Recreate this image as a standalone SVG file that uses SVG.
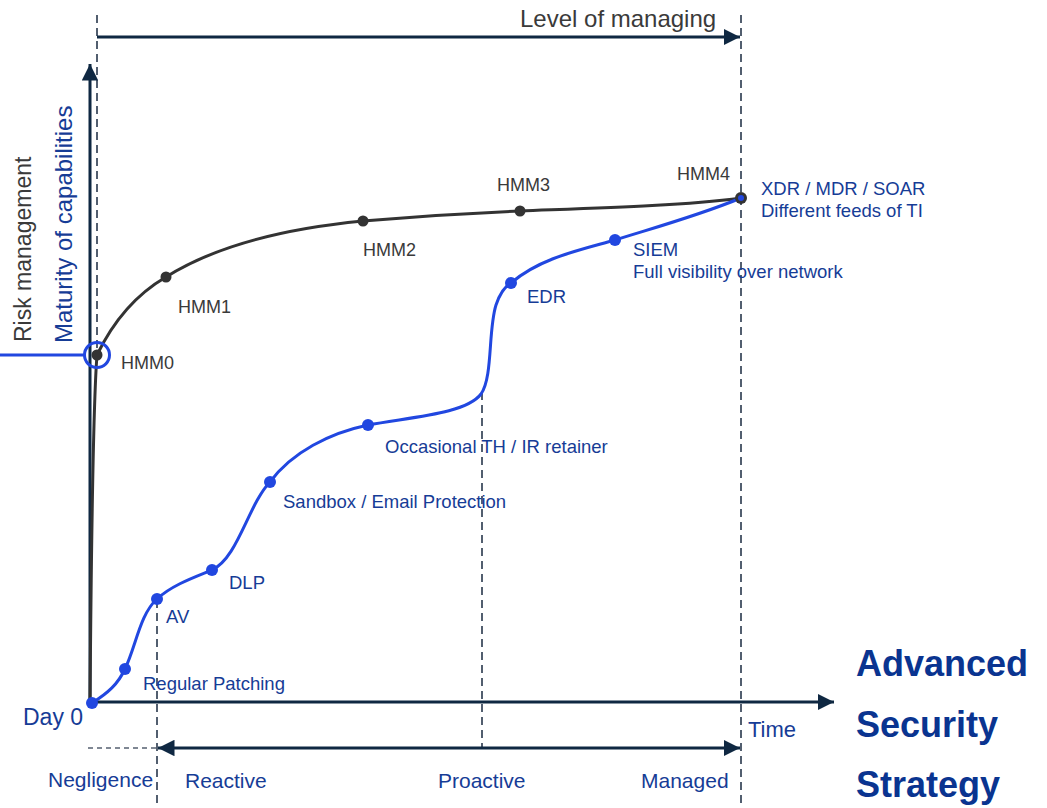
<svg xmlns="http://www.w3.org/2000/svg" width="1047" height="808" viewBox="0 0 1047 808">
<style>
text{font-family:"Liberation Sans",Arial,sans-serif}
.dk{fill:#3a3a3a;font-size:18px}
.bl{fill:#163c96;font-size:18.5px}
.ph{fill:#163c96;font-size:21px}
.big{fill:#0a3490;font-size:36px;font-weight:bold}
.axis{stroke:#0f2842;stroke-width:3;fill:none}
.dash{stroke:#1a2a40;stroke-width:1.5;stroke-dasharray:8 5;fill:none}
.bcurve{stroke:#2147e0;stroke-width:3;fill:none}
.kcurve{stroke:#333;stroke-width:3;fill:none}
.bdot{fill:#2147e0}
.kdot{fill:#333}
</style>
<defs>
<marker id="ah" viewBox="0 0 10 10" refX="10" refY="5" markerWidth="5.5" markerHeight="5.5" orient="auto-start-reverse" markerUnits="strokeWidth"><path d="M0,0 L10,5 L0,10 Z" fill="#0f2842"/></marker>
</defs>
<rect width="1047" height="808" fill="#fff"/>
<g id="guides">
<line class="dash" x1="97" y1="15" x2="97" y2="350"/>
<line class="dash" x1="741" y1="15" x2="741" y2="808"/>
<line class="dash" x1="157" y1="600" x2="157" y2="808"/>
<line class="dash" x1="482" y1="392" x2="482" y2="748"/>
<line x1="88" y1="748" x2="157" y2="748" stroke="#556070" stroke-width="1.5" stroke-dasharray="5 4"/>
</g>
<g id="connectors">
<line class="axis" x1="97" y1="37" x2="740" y2="37" marker-end="url(#ah)"/>
<line class="axis" x1="90" y1="703" x2="90" y2="64" marker-end="url(#ah)"/>
<line class="axis" x1="92" y1="702" x2="834" y2="702" marker-end="url(#ah)"/>
<line class="axis" x1="158" y1="748" x2="740" y2="748" marker-start="url(#ah)" marker-end="url(#ah)"/>
<line x1="0" y1="355" x2="85" y2="355" stroke="#2147e0" stroke-width="3"/>
<path class="kcurve" d="M90,702 C91,600 92,420 97,355 C110,328 130,298 166,277 C220,243 290,228 363,221 C420,216 470,213 520,211 C600,208 680,206 741,198"/>
<path class="bcurve" d="M92,703 C108,693 118,684 125,669 C136,646 140,614 157,599 C172,585 195,577 212,570 C238,558 248,505 270,482 C292,452 330,433 368,425 C410,417 466,414 481,394 C493,377 488,330 496,305 C500,293 504,287 511,283 C540,258 580,250 615,240 C660,226 700,215 741,198"/>
<circle cx="97" cy="355" r="12.5" fill="none" stroke="#2147e0" stroke-width="3"/>
</g>
<g id="axis-labels">
<text x="520" y="27" style="fill:#3a3a3a;font-size:24px">Level of managing</text>
<text transform="translate(31,342) rotate(-90)" style="fill:#3a3a3a;font-size:23px">Risk management</text>
<text transform="translate(72,343) rotate(-90)" style="fill:#163c96;font-size:24px">Maturity of capabilities</text>
<text x="23" y="725" style="fill:#163c96;font-size:23px">Day 0</text>
<text x="748" y="737" style="fill:#163c96;font-size:22px">Time</text>
</g>
<g id="hmm0"><circle class="kdot" cx="97" cy="355" r="5.5"/><text class="dk" x="121" y="369">HMM0</text></g>
<g id="hmm1"><circle class="kdot" cx="166" cy="277" r="5.5"/><text class="dk" x="178" y="313">HMM1</text></g>
<g id="hmm2"><circle class="kdot" cx="363" cy="221" r="5.5"/><text class="dk" x="363" y="256">HMM2</text></g>
<g id="hmm3"><circle class="kdot" cx="520" cy="211" r="5.5"/><text class="dk" x="497" y="191">HMM3</text></g>
<g id="hmm4"><circle class="kdot" cx="741" cy="198" r="6"/><circle class="bdot" cx="741" cy="198" r="3"/><text class="dk" x="677" y="180">HMM4</text></g>
<g id="day0"><circle class="bdot" cx="92" cy="703" r="6"/></g>
<g id="patching"><circle class="bdot" cx="125" cy="669" r="6"/><text class="bl" x="143" y="690">Regular Patching</text></g>
<g id="av"><circle class="bdot" cx="157" cy="599" r="6"/><text class="bl" x="166" y="623">AV</text></g>
<g id="dlp"><circle class="bdot" cx="212" cy="570" r="6"/><text class="bl" x="229" y="589">DLP</text></g>
<g id="sandbox"><circle class="bdot" cx="270" cy="482" r="6"/><text class="bl" x="283" y="508">Sandbox / Email Protection</text></g>
<g id="occasional"><circle class="bdot" cx="368" cy="425" r="6"/><text class="bl" x="385" y="453">Occasional TH / IR retainer</text></g>
<g id="edr"><circle class="bdot" cx="511" cy="283" r="6"/><text class="bl" x="527" y="303">EDR</text></g>
<g id="siem"><circle class="bdot" cx="615" cy="240" r="6"/><text class="bl" x="633" y="256">SIEM</text><text class="bl" x="633" y="278">Full visibility over network</text></g>
<g id="xdr"><text class="bl" x="761" y="195">XDR / MDR / SOAR</text><text class="bl" x="761" y="217">Different feeds of TI</text></g>
<g id="phases">
<text class="ph" x="48" y="787">Negligence</text>
<text class="ph" x="185" y="788">Reactive</text>
<text class="ph" x="438" y="788">Proactive</text>
<text class="ph" x="641" y="788">Managed</text>
</g>
<g id="title">
<text class="big" x="856" y="676">Advanced</text>
<text class="big" x="856" y="737">Security</text>
<text class="big" x="856" y="797">Strategy</text>
</g>
</svg>
